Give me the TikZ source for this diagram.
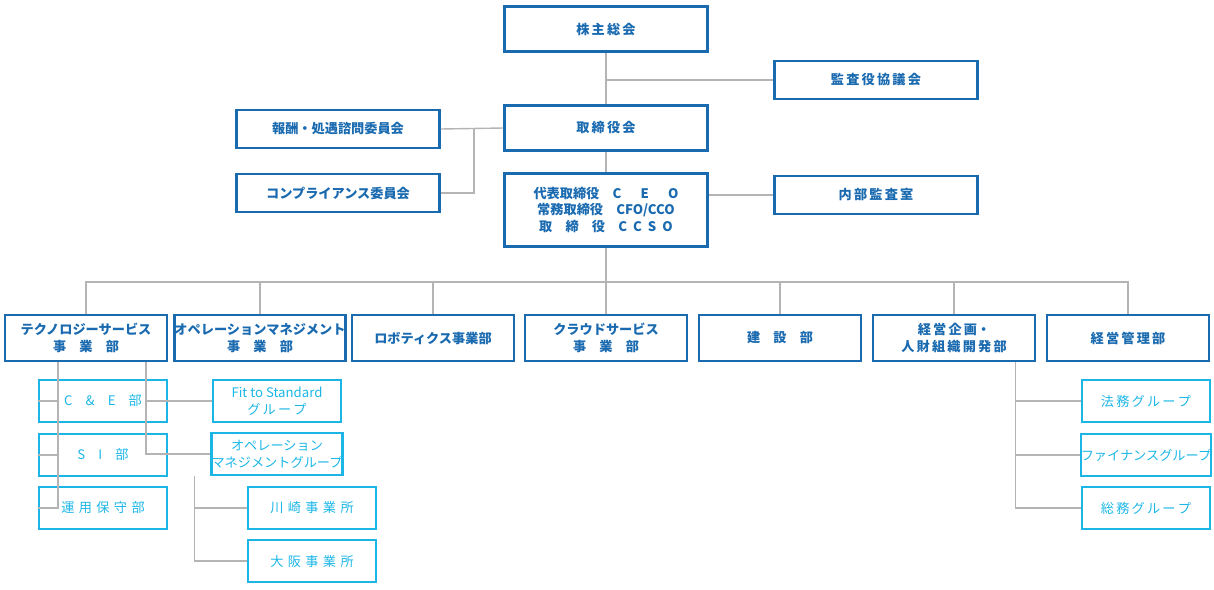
\documentclass[tikz,border=0pt]{standalone}
\usepackage{fontspec}
\setmainfont{Noto Sans CJK JP}
\usetikzlibrary{positioning}
\definecolor{darkblue}{HTML}{1A6AB0}
\definecolor{lightblue}{HTML}{1CB6E6}
\definecolor{linegray}{HTML}{B4B4B4}
\tikzset{
  org/.style={draw=darkblue, line width=1.6pt, text=darkblue, font=\fontsize{7.5}{9.5}\selectfont\bfseries, align=center, inner sep=0pt},
  big/.style={org, minimum width=4.06cm, minimum height=0.9cm},
  mid/.style={org, minimum width=4.06cm, minimum height=0.76cm},
  dept/.style={org, minimum width=3.24cm, minimum height=0.92cm},
  unit/.style={draw=lightblue, line width=1.4pt, text=lightblue, font=\fontsize{7.5}{9.5}\selectfont, align=center, inner sep=0pt, minimum width=2.56cm, minimum height=0.84cm},
  link/.style={draw=linegray, line width=0.8pt}
}
\begin{document}
\begin{tikzpicture}[x=0.02cm, y=-0.02cm]
        \useasboundingbox (0,0) rectangle (1214,589);

        % Top
        \node (agm) [big] at (606,29) {株\,主\,総\,会};
        \node (audit) [mid] at (876,80) {監\,査\,役\,協\,議\,会};
        \node (board) [big] at (606,128) {取\,締\,役\,会};
        \node (reward) [mid] at (338,129) {報酬・処遇諮問委員会};
        \node (compl) [mid] at (338,193) {コンプライアンス委員会};
        \node (ceo) [org, minimum width=4.06cm, minimum height=1.46cm] at (606,210)
          {代表取締役\quad C\quad\ \ E\quad\ \ O\\常務取締役\quad CFO/CCO\\取\quad 締\quad 役\quad C\ \ C\ \ S\ \ O};
        \node (internal) [mid] at (876,195) {内\,部\,監\,査\,室};

        % Departments
        \node (tech) [dept] at (86,338) {テクノロジーサービス\\事\quad 業\quad 部};
        \node (ops) [dept] at (260,338) {オペレーションマネジメント\\事\quad 業\quad 部};
        \node (robo) [dept] at (433,338) {ロボティクス事業部};
        \node (cloud) [dept] at (606,338) {クラウドサービス\\事\quad 業\quad 部};
        \node (build) [dept] at (780,338) {建\quad 設\quad 部};
        \node (plan) [dept] at (954,338) {経\,営\,企\,画・\\人\,財\,組\,織\,開\,発\,部};
        \node (mgmt) [dept] at (1128,338) {経\,営\,管\,理\,部};

        % Units
        \node (ce) [unit] at (103,401) {C\quad \&\quad E\quad 部};
        \node (si) [unit] at (103,455) {S\quad I\quad 部};
        \node (maint) [unit] at (103,508) {運\,\,用\,\,保\,\,守\,\,部};
        \node (fit) [unit] at (277,401) {Fit to Standard\\グ\,ル\,ー\,プ};
        \node (opgrp) [unit] at (277,454) {オペレーション\\マネジメントグループ};
        \node (kawa) [unit] at (312,508) {川\,\,崎\,\,事\,\,業\,\,所};
        \node (osaka) [unit] at (312,561) {大\,\,阪\,\,事\,\,業\,\,所};
        \node (legal) [unit] at (1146,401) {法\,務\,グ\,ル\,ー\,プ};
        \node (fin) [unit] at (1146,455) {ファイナンスグループ};
        \node (gen) [unit] at (1146,508) {総\,務\,グ\,ル\,ー\,プ};

        % Junctions
        \coordinate (j1) at (606,80);
        \coordinate (j2) at (474,128);
        \coordinate (j3) at (606,282);

        % Edges
        \begin{scope}[on background layer/.style={}]
        \draw[link] (agm) -- (board);
        \draw[link] (j1) -- (audit.west);
        \draw[link] (board.west) -- (reward.east);
        \draw[link] (j2) |- (compl.east);
        \draw[link] (board) -- (ceo);
        \draw[link] (ceo.east |- internal) -- (internal.west);
        \draw[link] (ceo) -- (j3);
        \foreach \d in {tech,ops,robo,cloud,build,plan,mgmt}
          \draw[link] (j3) -| (\d.north);
        \foreach \u in {ce,si,maint}
          \draw[link] ([xshift=-16]tech.south) |- (\u.west);
        \foreach \u in {fit,opgrp}
          \draw[link] ([xshift=-65]ops.south) |- (\u.west);
        \foreach \u in {kawa,osaka}
          \draw[link] ([xshift=-47]opgrp.south) |- (\u.west);
        \foreach \u in {legal,fin,gen}
          \draw[link] ([xshift=-64]mgmt.south) |- (\u.west);
        \end{scope}

\end{tikzpicture}
\end{document}
